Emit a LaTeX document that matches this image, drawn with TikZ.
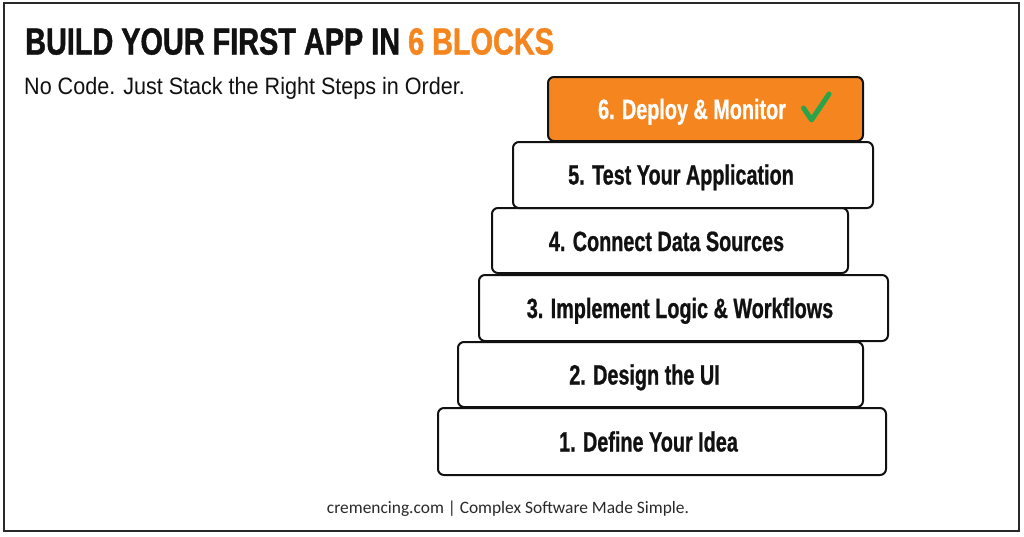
\documentclass[tikz,border=0pt]{standalone}
\usepackage{fontspec}
\setmainfont{Liberation Sans}
\newfontfamily\titlefont[FakeStretch=0.765,FakeBold=1.2]{Liberation Sans Bold}
\newfontfamily\labelfont[FakeStretch=0.71,FakeBold=0.8]{Liberation Sans Bold}
\newfontfamily\subfont[FakeStretch=0.91]{Liberation Sans}
\newfontfamily\footfont{Carlito}
\definecolor{orng}{HTML}{F5861F}
\definecolor{ink}{HTML}{111111}
\definecolor{chk}{HTML}{2AA44A}
\tikzset{
  block/.style={draw=ink, line width=2pt, rounded corners=6pt, fill=white},
  blabel/.style={anchor=base, inner sep=0pt, font=\labelfont\fontsize{27.9}{30}\selectfont, text=ink},
}
\begin{document}
\begin{tikzpicture}[x=1pt,y=-1pt]
\useasboundingbox (0,0) rectangle (1024,536);
\fill[white] (0,0) rectangle (1024,536);
\draw[line width=2.5pt, draw=ink!90] (4,3) rectangle (1019,531);
% title
\node[anchor=base west, inner sep=0pt, font=\titlefont\fontsize{37.7}{40}\selectfont, text=ink] (title) at (25,54.5) {BUILD YOUR FIRST APP IN \textcolor{orng}{6 BLOCKS}};
\node[anchor=base west, inner sep=0pt, font=\subfont\fontsize{23.7}{26}\selectfont, text=ink] (sub) at (24,94.5) {No Code. Just Stack the Right Steps in Order.};
% blocks
\draw[block] (438,408) rectangle (886,475);
\draw[block] (458,342) rectangle (863,407);
\draw[block] (479,275) rectangle (888,341);
\draw[block] (492,208) rectangle (848,273);
\draw[block] (513,142) rectangle (873,208);
\draw[block, fill=orng] (548,77) rectangle (863,141);
\node[blabel] (l1) at (648.5,451.5) {1. Define Your Idea};
\node[blabel] (l2) at (644.5,384.5) {2. Design the UI};
\node[blabel] (l3) at (680,318) {3. Implement Logic \& Workflows};
\node[blabel] (l4) at (666.5,251) {4. Connect Data Sources};
\node[blabel] (l5) at (681,184.5) {5. Test Your Application};
\node[blabel, text=white] (l6) at (692,119) {6. Deploy \& Monitor};
\draw[chk, line width=5pt, line cap=round, line join=round] (803.5,108) -- (811.5,120) -- (829,94);
% footer
\node[anchor=base, inner sep=0pt, font=\footfont\fontsize{17.4}{19}\selectfont, text=ink!90] (foot) at (508,513) {cremencing.com | Complex Software Made Simple.};
\end{tikzpicture}
\end{document}
